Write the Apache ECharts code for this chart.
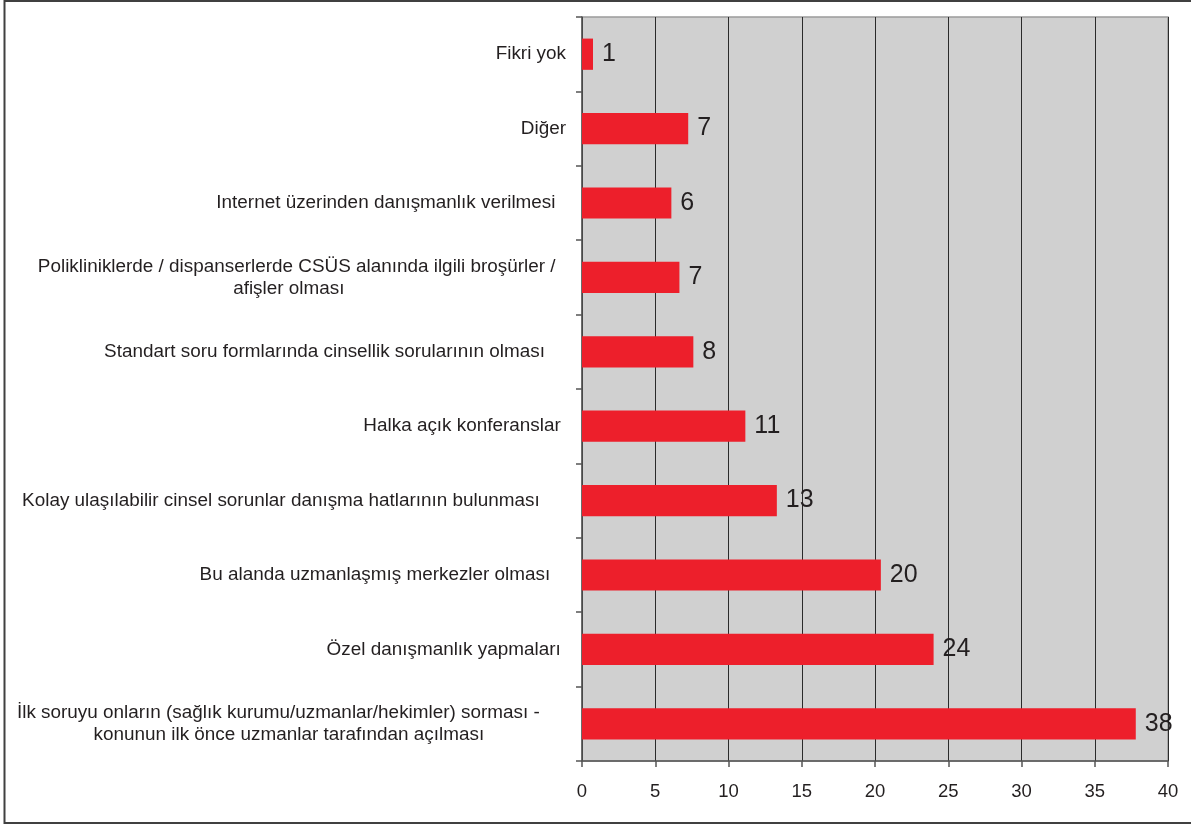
<!DOCTYPE html>
<html><head><meta charset="utf-8">
<script src="https://cdn.jsdelivr.net/npm/echarts@6/dist/echarts.min.js"></script>
<style>html,body{margin:0;padding:0;background:#fff}#c{width:1191px;height:825px}</style>
</head><body><div id="c"></div>
<script>
// Categories, top to bottom (trailing spaces as in the source labels)
const categories = [
  'Fikri yok',
  'Diğer',
  'Internet üzerinden danışmanlık verilmesi  ',
  'Polikliniklerde / dispanserlerde CSÜS alanında ilgili broşürler /  \nafişler olması     ',
  'Standart soru formlarında cinsellik sorularının olması    ',
  'Halka açık konferanslar ',
  'Kolay ulaşılabilir cinsel sorunlar danışma hatlarının bulunması     ',
  'Bu alanda uzmanlaşmış merkezler olması   ',
  'Özel danışmanlık yapmaları ',
  'İlk soruyu onların (sağlık kurumu/uzmanlar/hekimler) sorması -     \nkonunun ilk önce uzmanlar tarafından açılması '
];
// Bar lengths
const values = [0.75, 7.25, 6.1, 6.65, 7.6, 11.15, 13.3, 20.4, 24.0, 37.8];
// Value labels printed next to the bars
const valueLabels = ['1', '7', '6', '7', '8', '11', '13', '20', '24', '38'];
// X axis ticks
const xMin = 0, xMax = 40, xStep = 5;

const FONT = '"Liberation Sans", Arial, sans-serif';
const TXT = '#231F20';

const chart = echarts.init(document.getElementById('c'), null, {renderer: 'canvas'});
chart.setOption({
  animation: false,
  backgroundColor: '#ffffff',
  graphic: [{
    type: 'rect', silent: true, z: 100,
    shape: {x: 4.5, y: 1, width: 1200, height: 822},
    style: {fill: 'none', stroke: '#404040', lineWidth: 2}
  }],
  grid: {
    left: 582, top: 17, right: 23, bottom: 64,
    show: true, backgroundColor: '#D0D0D0', borderColor: '#9A9A9A', borderWidth: 1.5,
    outerBoundsMode: 'none'
  },
  xAxis: {
    type: 'value', min: xMin, max: xMax, interval: xStep,
    axisLine: {show: true, lineStyle: {color: '#555', width: 1.5}},
    axisTick: {show: true, inside: false, length: 6, lineStyle: {color: '#555', width: 1.5}},
    axisLabel: {color: TXT, fontSize: 18.5, fontFamily: FONT, margin: 21},
    splitLine: {show: true, lineStyle: {color: '#2a2a2a', width: 1}}
  },
  yAxis: {
    type: 'category', data: categories, inverse: true,
    axisLine: {show: true, lineStyle: {color: '#555', width: 1.5}},
    axisTick: {show: true, inside: false, length: 6, alignWithLabel: false, lineStyle: {color: '#555', width: 1.5}},
    axisLabel: {
      margin: 16, interval: 0,
      formatter: v => v.split('\n').map(l => '{c|' + l + '}').join('\n'),
      rich: {c: {align: 'center', fontSize: 18.9, fontFamily: FONT, color: TXT, lineHeight: 22}}
    },
    splitLine: {show: false}
  },
  series: [{
    type: 'bar', data: values, barCategoryGap: '58%',
    itemStyle: {color: '#ED1F2B'},
    label: {
      show: true, position: 'right', distance: 9,
      formatter: p => valueLabels[p.dataIndex],
      fontSize: 25, fontFamily: FONT, color: TXT
    }
  }]
});
</script></body></html>
